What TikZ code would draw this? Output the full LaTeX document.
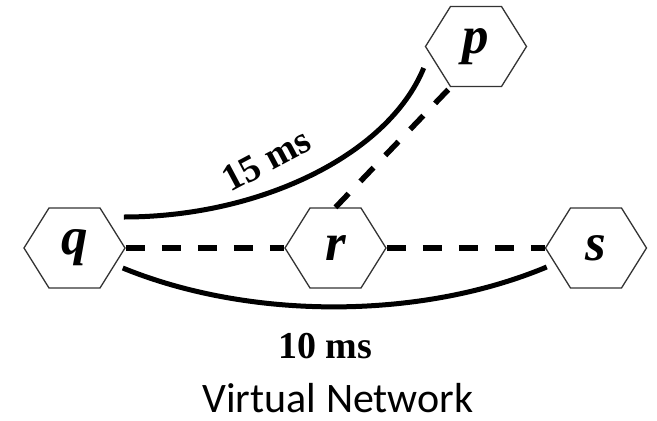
\documentclass[tikz,border=0pt]{standalone}
\usepackage{fontspec}
\setmainfont{Liberation Serif}
\newfontfamily\captionfont{Carlito}
\usetikzlibrary{shapes.symbols,calc}
\begin{document}
\begin{tikzpicture}[x=1pt,y=-1pt,
  hexnode/.style={signal, signal to=east and west, signal pointer angle=116,
    draw=black!80, line width=1.3pt, fill=white,
    minimum width=101pt, minimum height=80pt, inner sep=0pt,
    font=\fontsize{53}{53}\selectfont\bfseries\itshape},
  link/.style={line width=5.5pt, dash pattern=on 19pt off 17pt},
  latency/.style={line width=5pt},
  lbl/.style={font=\fontsize{38}{38}\selectfont\bfseries, inner sep=0pt}
]
\useasboundingbox (0,0) rectangle (657,421);

% routers
\node[hexnode] (q) at (74.5,248) {q};
\node[hexnode] (r) at (335.5,248) {r};
\node[hexnode] (s) at (596,248) {s};
\node[hexnode] (p) at (476,46.5) {p};

% free ends of the latency arcs
\coordinate (qtop) at ($(q.east)+(-2,-31)$);
\coordinate (ptail) at ($(p.west)+(-1,21.5)$);
\coordinate (qlow) at ($(q.east)+(-3,20)$);
\coordinate (slow) at ($(s.west)+(2,19)$);

% virtual links
\draw[link] (q.east) -- (r.west);
\draw[link] (r.east) -- (s.west);
\draw[link] (r.north) -- (p.-122);

% measured latencies
\draw[latency] (qtop) .. controls (260,217) and (388,155) .. (ptail);
\draw[latency] (qlow) .. controls (250,320) and (420,320) .. (slow);

\node[lbl, rotate=28] (l15) at (266,160) {15 ms};
\node[lbl] (l10) at (325,346) {10 ms};

\node[font=\captionfont\fontsize{42}{42}\selectfont, anchor=base, inner sep=0pt] (cap) at (338,412) {Virtual Network};
\end{tikzpicture}
\end{document}
